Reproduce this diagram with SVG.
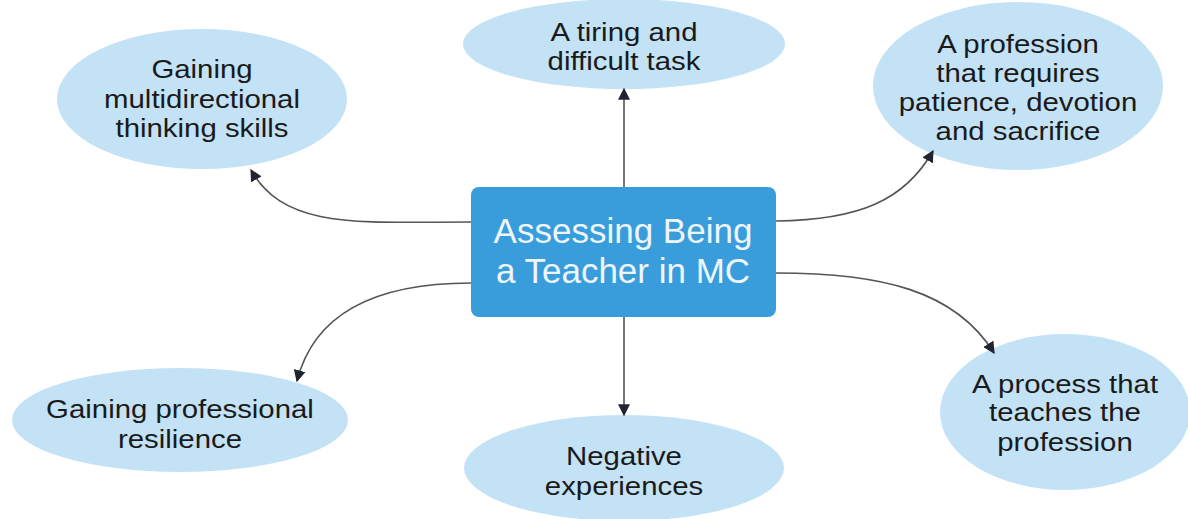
<svg xmlns="http://www.w3.org/2000/svg" width="1188" height="519" viewBox="0 0 1188 519">
<defs>
<marker id="arr" viewBox="0 0 10 10" refX="9" refY="5" markerWidth="12" markerHeight="12" markerUnits="userSpaceOnUse" orient="auto">
<path d="M0,0 L10,5 L0,10 z" fill="#1f2430"/>
</marker>
<style>
.ell{fill:#c3e2f5}
.t{font-family:"Liberation Sans",Arial,sans-serif;font-size:26px;fill:#1a1a1a;text-anchor:middle}
.ct{font-family:"Liberation Sans",Arial,sans-serif;font-size:35px;fill:#eef6fb;text-anchor:middle}
.c{fill:none;stroke:#555;stroke-width:1.6;marker-end:url(#arr)}
</style>
</defs>
<rect width="1188" height="519" fill="#fff"/>
<g id="n-top">
<ellipse class="ell" cx="624" cy="44" rx="161" ry="45"/>
<g transform="translate(624,0) scale(1.13,1)">
<text class="t" x="0" y="41">A tiring and</text>
<text class="t" x="0" y="70">difficult task</text>
</g>
</g>
<g id="n-topleft">
<ellipse class="ell" cx="202" cy="99" rx="145" ry="70"/>
<g transform="translate(202,0) scale(1.13,1)">
<text class="t" x="0" y="78">Gaining</text>
<text class="t" x="0" y="108">multidirectional</text>
<text class="t" x="0" y="137">thinking skills</text>
</g>
</g>
<g id="n-topright">
<ellipse class="ell" cx="1018" cy="86" rx="145" ry="84"/>
<g transform="translate(1018,0) scale(1.13,1)">
<text class="t" x="0" y="53">A profession</text>
<text class="t" x="0" y="82">that requires</text>
<text class="t" x="0" y="111">patience, devotion</text>
<text class="t" x="0" y="140">and sacrifice</text>
</g>
</g>
<g id="n-botleft">
<ellipse class="ell" cx="180" cy="420" rx="168" ry="52"/>
<g transform="translate(180,0) scale(1.13,1)">
<text class="t" x="0" y="418">Gaining professional</text>
<text class="t" x="0" y="448">resilience</text>
</g>
</g>
<g id="n-bottom">
<ellipse class="ell" cx="624" cy="468" rx="160" ry="53"/>
<g transform="translate(624,0) scale(1.13,1)">
<text class="t" x="0" y="465">Negative</text>
<text class="t" x="0" y="495">experiences</text>
</g>
</g>
<g id="n-botright">
<ellipse class="ell" cx="1065" cy="412" rx="125" ry="78"/>
<g transform="translate(1065,0) scale(1.13,1)">
<text class="t" x="0" y="393">A process that</text>
<text class="t" x="0" y="421">teaches the</text>
<text class="t" x="0" y="451">profession</text>
</g>
</g>
<g id="n-center">
<rect x="471" y="187" width="305" height="130" rx="8" fill="#3a9ddb"/>
<text class="ct" x="623" y="243">Assessing Being</text>
<text class="ct" x="623" y="283">a Teacher in MC</text>
</g>
<g id="connectors">
<path class="c" d="M624,187 L624,89"/>
<path class="c" d="M624,317 L624,415"/>
<path class="c" d="M471,222 C360,222 285,230 251,170"/>
<path class="c" d="M776,221 C860,220 905,200 933,151"/>
<path class="c" d="M471,283 C380,283 315,310 297,381"/>
<path class="c" d="M776,273 C880,273 955,290 994,353"/>
</g>
</svg>
